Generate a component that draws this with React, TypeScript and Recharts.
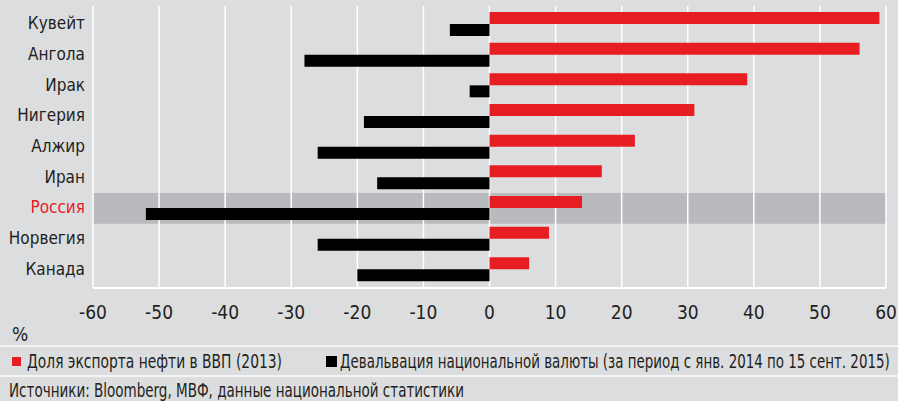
import React from 'react';
import { BarChart, Bar, XAxis, YAxis, CartesianGrid, ReferenceArea } from 'recharts';

const countries = ['Кувейт', 'Ангола', 'Ирак', 'Нигерия', 'Алжир', 'Иран', 'Россия', 'Норвегия', 'Канада'];
const oilExportShare = [59, 56, 39, 31, 22, 17, 14, 9, 6];
const devaluation = [-6, -28, -3, -19, -26, -17, -52, -26, -20];
const xTicks = [-60, -50, -40, -30, -20, -10, 0, 10, 20, 30, 40, 50, 60];
const highlight = 'Россия';

const RED = '#e71d24';
const INK = '#231f20';
const BG = '#dcdddf';
const LINE = '#f4f4f5';
const FONT = "'Liberation Sans Narrow', 'DejaVu Sans Condensed', sans-serif";

const data = countries.map((name, i) => ({ name, oil: oilExportShare[i], dev: devaluation[i] }));

function CountryTick(props: any) {
  const { x, y, payload } = props;
  const isHl = payload.value === highlight;
  return (
    <text x={x} y={y} dy="0.3em" textAnchor="end" fontSize={17} fontFamily={FONT} fill={isHl ? RED : INK}>
      {payload.value}
    </text>
  );
}

const squeeze = (k: number): React.CSSProperties => ({
  display: 'inline-block', transform: `scaleX(${k})`, transformOrigin: 'left center', whiteSpace: 'nowrap',
});

export default function App() {
  return (
    <div style={{ position: 'relative', width: 898, height: 401, background: BG, fontFamily: FONT, color: INK, overflow: 'hidden' }}>
      <style>{`body{margin:0}`}</style>
      <BarChart width={898} height={330} data={data} layout="vertical" margin={{ top: 6, right: 12, left: 0, bottom: 0 }} barGap={0}>
        <ReferenceArea y1={highlight} y2={highlight} fill="#b9babd" fillOpacity={1} stroke="none" zIndex={-200} />
        <CartesianGrid horizontal={false} stroke="#ffffff" strokeWidth={1.5} />
        <XAxis type="number" domain={[-60, 60]} ticks={xTicks} height={42} axisLine={{ stroke: '#ffffff', strokeWidth: 2 }} tickLine={false} tickMargin={12} tick={{ fontSize: 19, fill: INK, fontFamily: FONT }} />
        <XAxis xAxisId="top" orientation="top" type="number" domain={[-60, 60]} height={0} tick={false} tickLine={false} axisLine={{ stroke: '#ffffff', strokeWidth: 2 }} />
        <YAxis type="category" dataKey="name" width={93} padding={{ top: 3, bottom: 3 }} axisLine={false} tickLine={false} tick={<CountryTick />} />
        <Bar dataKey="oil" fill={RED} barSize={12} isAnimationActive={false} />
        <Bar dataKey="dev" fill="#000000" barSize={12} isAnimationActive={false} />
      </BarChart>
      <div style={{ position: 'absolute', left: 12, top: 323, fontSize: 19 }}>%</div>
      <div style={{ position: 'absolute', left: 0, top: 345, width: 898, height: 2, background: LINE }} />
      <div style={{ position: 'absolute', left: 12, top: 349, height: 24, display: 'flex', alignItems: 'center', fontSize: 19 }}>
        <span style={{ width: 9, height: 9, background: RED, marginRight: 6, flex: 'none' }} />
        <span style={squeeze(0.81)}>Доля экспорта нефти в ВВП (2013)</span>
      </div>
      <div style={{ position: 'absolute', left: 326, top: 349, height: 24, display: 'flex', alignItems: 'center', fontSize: 19 }}>
        <span style={{ width: 11, height: 11, background: '#000', marginRight: 3, flex: 'none' }} />
        <span style={squeeze(0.785)}>Девальвация национальной валюты (за период с янв. 2014 по 15 сент. 2015)</span>
      </div>
      <div style={{ position: 'absolute', left: 0, top: 375, width: 898, height: 2, background: LINE }} />
      <div style={{ position: 'absolute', left: 9, top: 379, fontSize: 19 }}>
        <span style={squeeze(0.79)}>Источники: Bloomberg, МВФ, данные национальной статистики</span>
      </div>
    </div>
  );
}
